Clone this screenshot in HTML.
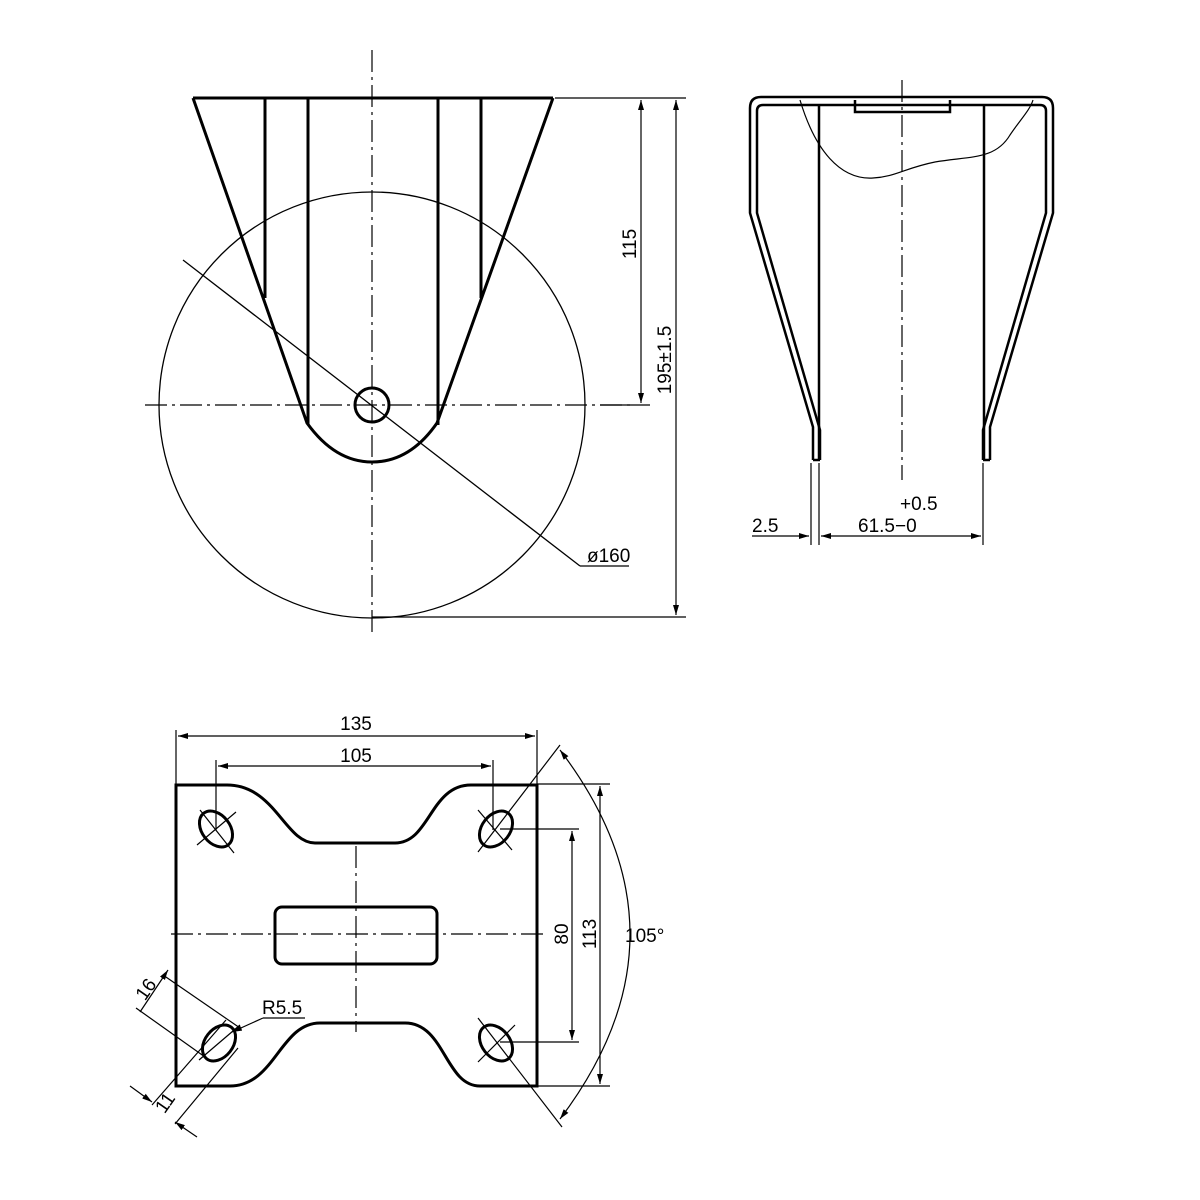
<!DOCTYPE html>
<html><head><style>html,body{margin:0;padding:0;background:#fff}svg{display:block}</style></head><body>
<svg width="1200" height="1200" viewBox="0 0 1200 1200" xmlns="http://www.w3.org/2000/svg" font-family="Liberation Sans, sans-serif">
<defs>
<marker id="a" viewBox="0 0 10 6" refX="10" refY="3" markerWidth="10" markerHeight="6" orient="auto-start-reverse" markerUnits="userSpaceOnUse"><path d="M0,0L10,3L0,6z" fill="#000"/></marker>
</defs>
<g fill="none" stroke="#000">
<g stroke-width="1.3">
<circle cx="372" cy="405" r="213"/>
<line x1="183" y1="260" x2="580" y2="566"/>
<polyline points="580,566 629,566"/>
</g>
<g stroke-width="3">
<line x1="193" y1="98" x2="553" y2="98"/>
<path d="M193,98 L307,423 Q335,462 372,462 Q410,462 437,423 L553,98"/>
<line x1="265" y1="98" x2="265" y2="298"/>
<line x1="481" y1="98" x2="481" y2="298"/>
<line x1="308" y1="98" x2="308" y2="425"/>
<line x1="438" y1="98" x2="438" y2="425"/>
<circle cx="372" cy="405" r="17"/>
</g>
<g stroke-width="1.2" stroke-dasharray="22,5,3,5">
<line x1="372" y1="50" x2="372" y2="635"/>
<line x1="145" y1="405" x2="630" y2="405"/>
</g>
<g stroke-width="1.2">
<line x1="555" y1="98" x2="686" y2="98"/>
<line x1="600" y1="405" x2="650" y2="405"/>
<line x1="372" y1="617" x2="686" y2="617"/>
<line x1="641" y1="100" x2="641" y2="403" marker-start="url(#a)" marker-end="url(#a)"/>
<line x1="676" y1="100" x2="676" y2="615" marker-start="url(#a)" marker-end="url(#a)"/>
</g>
<g stroke-width="2.5">
<path d="M813,460 L813,427 L750,213 L750,108 Q750,97 761,97 L1042,97 Q1053,97 1053,108 L1053,213 L990,427 L990,460"/>
<path d="M820,460 L820,430 L757,213 L757,111 Q757,105 763,105 L1040,105 Q1046,105 1046,111 L1046,213 L983,430 L983,460"/>
<line x1="813" y1="460" x2="820" y2="460"/>
<line x1="983" y1="460" x2="990" y2="460"/>
<line x1="819" y1="105" x2="819" y2="460"/>
<line x1="984" y1="105" x2="984" y2="460"/>
<path d="M855,100 L855,112 L950,112 L950,100"/>
</g>
<g stroke-width="1.2">
<path d="M800,100 C815,150 840,180 873,178 C895,177 905,168 935,162 C970,156 995,160 1010,135 C1020,120 1030,110 1033,100"/>
<line x1="811" y1="463" x2="811" y2="545"/>
<line x1="819" y1="463" x2="819" y2="545"/>
<line x1="983" y1="463" x2="983" y2="545"/>
<line x1="752" y1="536" x2="809" y2="536" marker-end="url(#a)"/>
<line x1="821" y1="536" x2="981" y2="536" marker-start="url(#a)" marker-end="url(#a)"/>
</g>
<line x1="902" y1="80" x2="902" y2="480" stroke-width="1.2" stroke-dasharray="22,5,3,5"/>
<g stroke-width="3">
<path d="M227,785 L176,785 L176,1086 L230,1086 C275,1086 280,1023 320,1023 L405,1023 C445,1023 445,1086 480,1086 L537,1086 L537,785 L471,785 C430,785 430,843 395,843 L315,843 C285,843 275,785 227,785 Z"/>
<rect x="275" y="907" width="162" height="57" rx="7"/>
<ellipse cx="216" cy="829" rx="20" ry="14" transform="rotate(52 216 829)"/>
<ellipse cx="496" cy="829" rx="20" ry="14" transform="rotate(-52 496 829)"/>
<ellipse cx="219" cy="1043" rx="20" ry="14" transform="rotate(-52 219 1043)"/>
<ellipse cx="496" cy="1043" rx="20" ry="14" transform="rotate(52 496 1043)"/>
</g>
<g stroke-width="1.2">
<line x1="200" y1="810" x2="234" y2="853"/><line x1="197" y1="845" x2="236" y2="812"/>
<line x1="478" y1="852" x2="560" y2="745"/><line x1="478" y1="810" x2="512" y2="850"/>
<line x1="478" y1="1018" x2="562" y2="1127"/><line x1="478" y1="1062" x2="515" y2="1025"/>
<line x1="199" y1="1060" x2="240" y2="1025"/>
<line x1="176" y1="730" x2="176" y2="785"/><line x1="537" y1="730" x2="537" y2="785"/>
<line x1="178" y1="736" x2="535" y2="736" marker-start="url(#a)" marker-end="url(#a)"/>
<line x1="216" y1="760" x2="216" y2="830"/><line x1="493" y1="760" x2="493" y2="830"/>
<line x1="218" y1="766" x2="491" y2="766" marker-start="url(#a)" marker-end="url(#a)"/>
<line x1="500" y1="829" x2="579" y2="829"/><line x1="500" y1="1042" x2="579" y2="1042"/>
<line x1="572" y1="831" x2="572" y2="1040" marker-start="url(#a)" marker-end="url(#a)"/>
<line x1="537" y1="784" x2="610" y2="784"/><line x1="537" y1="1086" x2="610" y2="1086"/>
<line x1="600" y1="786" x2="600" y2="1084" marker-start="url(#a)" marker-end="url(#a)"/>
<path d="M560,750 Q700,934 560,1119" marker-start="url(#a)" marker-end="url(#a)"/>
<line x1="163" y1="975" x2="240" y2="1028"/>
<line x1="136" y1="1008" x2="205" y2="1057"/>
<line x1="168" y1="970" x2="140" y2="1012" marker-start="url(#a)"/>
<line x1="152" y1="1105" x2="226" y2="1020"/>
<line x1="175" y1="1124" x2="238" y2="1048"/>
<line x1="130" y1="1086" x2="152" y2="1102" marker-end="url(#a)"/>
<line x1="197" y1="1137" x2="175" y2="1122" marker-end="url(#a)"/>
<line x1="232" y1="1032" x2="263" y2="1018" marker-start="url(#a)"/>
<line x1="263" y1="1018" x2="305" y2="1018"/>
</g>
<g stroke-width="1.2" stroke-dasharray="22,5,3,5">
<line x1="171" y1="934" x2="545" y2="934"/>
<line x1="356" y1="846" x2="356" y2="1032"/>
</g>
</g>
<g font-size="19" fill="#000">
<text x="636" y="244" transform="rotate(-90 636 244)" text-anchor="middle">115</text>
<text x="671" y="360" transform="rotate(-90 671 360)" text-anchor="middle">195±1.5</text>
<text x="587" y="562">ø160</text>
<text x="752" y="532">2.5</text>
<text x="858" y="532">61.5−0</text>
<text x="900" y="510">+0.5</text>
<text x="356" y="730" text-anchor="middle">135</text>
<text x="356" y="762" text-anchor="middle">105</text>
<text x="568" y="934" transform="rotate(-90 568 934)" text-anchor="middle">80</text>
<text x="596" y="934" transform="rotate(-90 596 934)" text-anchor="middle">113</text>
<text x="625" y="942">105°</text>
<text x="262" y="1014">R5.5</text>
<text x="147" y="995" transform="rotate(-55 147 990)" text-anchor="middle">16</text>
<text x="167" y="1108" transform="rotate(-55 167 1104)" text-anchor="middle">11</text>
</g>
</svg>
</body></html>
